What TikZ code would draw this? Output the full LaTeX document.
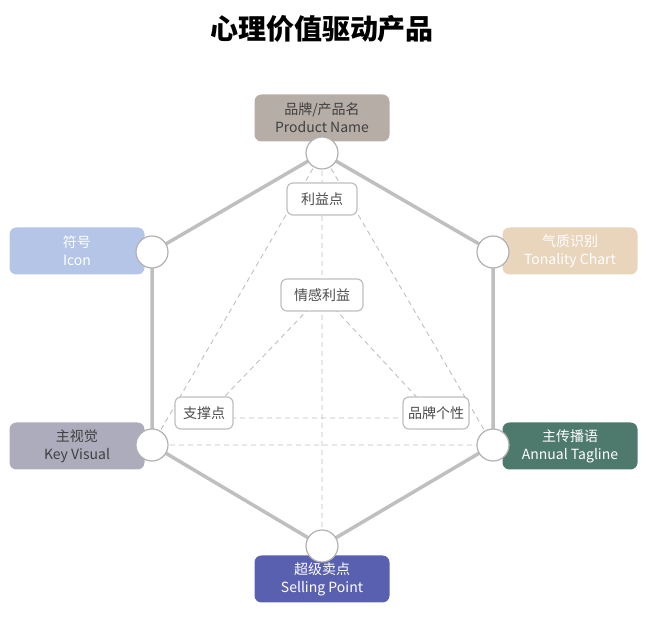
\documentclass[tikz,border=0pt]{standalone}
\usepackage{fontspec}
\setmainfont{Noto Sans CJK SC}
\begin{document}
\begin{tikzpicture}[x=1pt,y=-1pt,
 hex/.style={line width=3.5pt,draw=black!25},
 dsh/.style={draw=black!25,dashed,line width=0.9pt,dash pattern=on 5pt off 4pt},
 dot/.style={circle,draw=black!30,fill=white,line width=1.2pt,minimum size=32pt,inner sep=0pt},
 lab/.style={rectangle,rounded corners=6pt,draw=black!25,fill=white,line width=1.2pt,minimum height=32pt,font=\fontsize{14}{16}\selectfont,text=black!70,inner sep=0pt},
 card/.style={rectangle,rounded corners=7pt,minimum width=135pt,minimum height=47pt,align=center,inner sep=0pt,font=\fontsize{14}{18}\selectfont}]
\useasboundingbox (0,0) rectangle (649,628);
\node[font=\fontsize{28}{32}\selectfont\bfseries] (title) at (322,29) {心理价值驱动产品};
\definecolor{cA}{HTML}{B5ADA6}\definecolor{cB}{HTML}{B4C5E8}\definecolor{cC}{HTML}{E9D4BC}
\definecolor{cD}{HTML}{ACACBC}\definecolor{cE}{HTML}{4E7A6E}\definecolor{cF}{HTML}{5A60B0}
\node[card,fill=cA,text=black!75] (n1) at (322,118) {品牌/产品名\\Product Name};
\node[card,fill=cB,text=white] (n2) at (77,251) {符号\\Icon};
\node[card,fill=cC,text=white] (n3) at (570,251) {气质识别\\Tonality Chart};
\node[card,fill=cD,text=black!75] (n4) at (77,446) {主视觉\\Key Visual};
\node[card,fill=cE,text=white] (n5) at (570,446) {主传播语\\Annual Tagline};
\node[card,fill=cF,text=white] (n6) at (322,579) {超级卖点\\Selling Point};
\coordinate (T) at (322,153);\coordinate (UR) at (493,252);\coordinate (LR) at (493,445);
\coordinate (B) at (322,546);\coordinate (LL) at (152,445);\coordinate (UL) at (152,252);
\coordinate (a) at (322,199);\coordinate (b) at (322,295);
\coordinate (c) at (204,418);\coordinate (d) at (436,418);
\draw[dsh] (T)--(LL) (T)--(LR) (LL)--(LR) (T)--(B) (b)--(c) (b)--(d) (c)--(d);
\draw[hex] (T)--(UR)--(LR)--(B)--(LL)--(UL)--cycle;
\node[lab,minimum width=70pt] (la) at (a) {利益点};
\node[lab,minimum width=82pt] (lb) at (b) {情感利益};
\node[lab,minimum width=58pt] (lc) at (204,413) {支撑点};
\node[lab,minimum width=66pt] (ld) at (436,413) {品牌个性};
\foreach \p/\n in {T/p1,UR/p2,LR/p3,B/p4,LL/p5,UL/p6} \node[dot] (\n) at (\p) {};
\end{tikzpicture}
\end{document}
